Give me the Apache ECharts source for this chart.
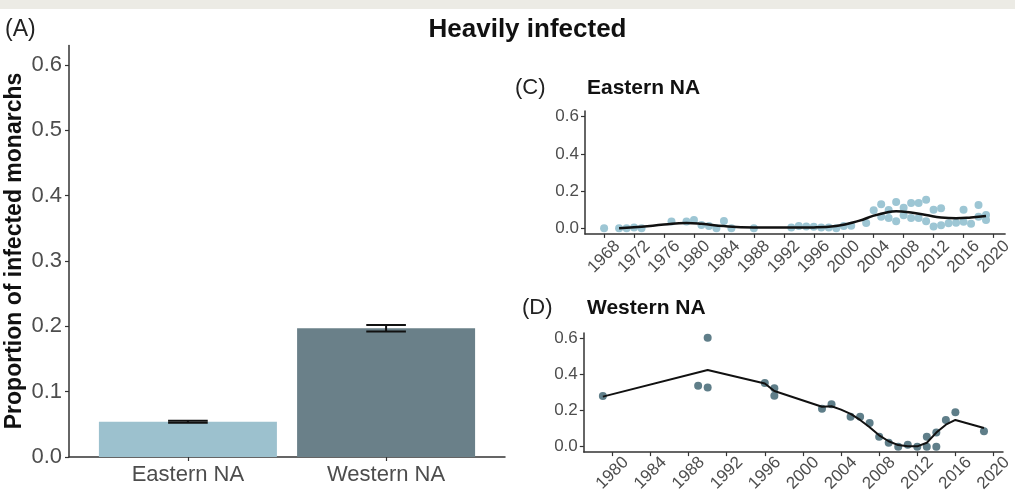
<!DOCTYPE html>
<html>
<head>
<meta charset="utf-8">
<script src="https://cdn.jsdelivr.net/npm/echarts@6/dist/echarts.min.js"></script>
<style>
html,body{margin:0;padding:0;background:#fff;}
#chart{width:1015px;height:498px;}
</style>
</head>
<body>
<div id="chart"></div>
<script>
// ---- data ----
const catsA = ['Eastern NA', 'Western NA'];
const barMeans = [0.054, 0.197];
const errLow = [0.0525, 0.192];
const errHigh = [0.0555, 0.202];
const yTicksA = [0, 0.1, 0.2, 0.3, 0.4, 0.5, 0.6];
const yTicksCD = [0, 0.2, 0.4, 0.6];
const yearTicksC = [1968, 1972, 1976, 1980, 1984, 1988, 1992, 1996, 2000, 2004, 2008, 2012, 2016, 2020];
const yearTicksD = [1980, 1984, 1988, 1992, 1996, 2000, 2004, 2008, 2012, 2016, 2020];

const eastYears = [1968, 1970, 1971, 1972, 1973, 1977, 1979, 1980, 1981, 1982, 1983, 1984, 1985, 1988,
  1993, 1994, 1995, 1996, 1997, 1998, 1999, 2000, 2001, 2003, 2004, 2005, 2005, 2006, 2006, 2007, 2007,
  2008, 2008, 2009, 2009, 2010, 2010, 2011, 2011, 2012, 2012, 2013, 2013, 2014, 2015, 2016, 2016, 2017,
  2018, 2018, 2019, 2019];
const eastVals = [0.0, 0.0, 0.0, 0.005, 0.0, 0.036, 0.036, 0.045, 0.018, 0.012, 0.0, 0.04, 0.0, 0.0,
  0.005, 0.012, 0.01, 0.008, 0.004, 0.004, 0.0, 0.012, 0.014, 0.028, 0.097, 0.13, 0.062, 0.098, 0.056, 0.142, 0.038,
  0.11, 0.07, 0.136, 0.055, 0.136, 0.056, 0.153, 0.038, 0.1, 0.01, 0.108, 0.016, 0.027, 0.03, 0.1, 0.035, 0.025,
  0.125, 0.062, 0.072, 0.045];
const eastTrendYears = [1970, 1973, 1976, 1979, 1981, 1984, 1988, 1992, 1996, 1999, 2002, 2004, 2006, 2007, 2009, 2011, 2013, 2015, 2017, 2019];
const eastTrendVals = [0.0, 0.008, 0.02, 0.028, 0.024, 0.012, 0.005, 0.004, 0.005, 0.013, 0.04, 0.068, 0.088, 0.092, 0.085, 0.072, 0.058, 0.054, 0.058, 0.066];

const westYears = [1979, 1989, 1990, 1990, 1996, 1997, 1997, 2002, 2003, 2005, 2006, 2007, 2008, 2009, 2010, 2011, 2012, 2013, 2013, 2014, 2014, 2015, 2016, 2019];
const westVals = [0.28, 0.338, 0.603, 0.328, 0.352, 0.323, 0.282, 0.21, 0.235, 0.166, 0.166, 0.131, 0.055, 0.022, 0.0, 0.011, 0.0, 0.055, 0.0, 0.078, 0.0, 0.148, 0.19, 0.085];
const westTrendYears = [1979, 1990, 1996, 1997, 2002, 2003, 2004, 2005, 2006, 2007, 2008, 2009, 2010, 2011, 2012, 2013, 2014, 2015, 2016, 2019];
const westTrendVals = [0.277, 0.425, 0.35, 0.308, 0.221, 0.224, 0.205, 0.182, 0.148, 0.108, 0.063, 0.03, 0.009, 0.002, 0.002, 0.022, 0.078, 0.122, 0.148, 0.103];

// ---- styles ----
const FONT = "'Liberation Sans', Arial, Helvetica, sans-serif";
const barColors = ['#9cc1ce', '#6a8089'];
const eastPointColor = '#9dc6d4';
const westPointColor = '#5f7e89';
const axisColor = '#333333';
const tickLabelColor = '#4d4d4d';

const zip = (a, b) => a.map((v, i) => [v, b[i]]);

const chart = echarts.init(document.getElementById('chart'), null, {renderer: 'canvas'});

function axisBase() {
  return {
    axisLine: {show: true, onZero: false, lineStyle: {color: axisColor, width: 1.5}},
    axisTick: {show: true, length: 4, lineStyle: {color: axisColor, width: 1.2}},
    splitLine: {show: false}
  };
}

const option = {
  backgroundColor: '#ffffff',
  animation: false,
  grid: [
    {left: 69, top: 45.4, width: 436, height: 411.6},
    {left: 585, top: 111.1, width: 424.4, height: 122.8},
    {left: 583.8, top: 332.9, width: 423.5, height: 119.2}
  ],
  xAxis: [
    Object.assign(axisBase(), {
      gridIndex: 0, type: 'value', min: 0.4, max: 2.6,
      axisTick: {show: true, length: 4, customValues: [1, 2], lineStyle: {color: axisColor, width: 1.2}},
      axisLabel: {customValues: [1, 2], formatter: v => catsA[Math.round(v) - 1], fontSize: 22, color: tickLabelColor, fontFamily: FONT, margin: 7}
    }),
    Object.assign(axisBase(), {
      gridIndex: 1, type: 'value', min: 1965.45, max: 2021.55,
      axisTick: {show: true, length: 4, customValues: yearTicksC, lineStyle: {color: axisColor, width: 1.2}},
      axisLabel: {customValues: yearTicksC, rotate: 45, align: 'center', verticalAlign: 'middle', margin: 23, fontSize: 17, color: tickLabelColor, fontFamily: FONT, formatter: v => String(v)}
    }),
    Object.assign(axisBase(), {
      gridIndex: 2, type: 'value', min: 1977, max: 2021,
      axisTick: {show: true, length: 4, customValues: yearTicksD, lineStyle: {color: axisColor, width: 1.2}},
      axisLabel: {customValues: yearTicksD, rotate: 45, align: 'center', verticalAlign: 'middle', margin: 21, fontSize: 17, color: tickLabelColor, fontFamily: FONT, formatter: v => String(v)}
    })
  ],
  yAxis: [
    Object.assign(axisBase(), {
      gridIndex: 0, type: 'value', min: 0, max: 0.63,
      axisTick: {show: true, length: 4, customValues: yTicksA, lineStyle: {color: axisColor, width: 1.2}},
      axisLabel: {customValues: yTicksA, formatter: v => v.toFixed(1), fontSize: 22, color: tickLabelColor, fontFamily: FONT, margin: 7}
    }),
    Object.assign(axisBase(), {
      gridIndex: 1, type: 'value', min: -0.03, max: 0.63,
      axisTick: {show: true, length: 4, customValues: yTicksCD, lineStyle: {color: axisColor, width: 1.2}},
      axisLabel: {customValues: yTicksCD, formatter: v => v.toFixed(1), fontSize: 17, color: tickLabelColor, fontFamily: FONT, margin: 6}
    }),
    Object.assign(axisBase(), {
      gridIndex: 2, type: 'value', min: -0.03, max: 0.63,
      axisTick: {show: true, length: 4, customValues: yTicksCD, lineStyle: {color: axisColor, width: 1.2}},
      axisLabel: {customValues: yTicksCD, formatter: v => v.toFixed(1), fontSize: 17, color: tickLabelColor, fontFamily: FONT, margin: 6}
    })
  ],
  series: [
    {
      type: 'bar', xAxisIndex: 0, yAxisIndex: 0, barWidth: 178,
      data: barMeans.map((m, i) => ({value: [i + 1, m], itemStyle: {color: barColors[i]}}))
    },
    {
      type: 'custom', xAxisIndex: 0, yAxisIndex: 0, z: 5,
      data: barMeans.map((m, i) => [i + 1, errLow[i], errHigh[i]]),
      renderItem: function (params, api) {
        const x = api.value(0), lo = api.value(1), hi = api.value(2);
        const pLo = api.coord([x, lo]);
        const pHi = api.coord([x, hi]);
        const half = api.size([0.1, 0])[0];
        const st = {stroke: '#111111', lineWidth: 2};
        return {
          type: 'group',
          children: [
            {type: 'line', shape: {x1: pHi[0] - half, y1: pHi[1], x2: pHi[0] + half, y2: pHi[1]}, style: st},
            {type: 'line', shape: {x1: pLo[0] - half, y1: pLo[1], x2: pLo[0] + half, y2: pLo[1]}, style: st},
            {type: 'line', shape: {x1: pHi[0], y1: pHi[1], x2: pLo[0], y2: pLo[1]}, style: st}
          ]
        };
      }
    },
    {
      type: 'scatter', xAxisIndex: 1, yAxisIndex: 1, symbolSize: 8,
      itemStyle: {color: eastPointColor, opacity: 1},
      data: zip(eastYears, eastVals)
    },
    {
      type: 'line', xAxisIndex: 1, yAxisIndex: 1, smooth: 0.5, showSymbol: false, z: 4,
      lineStyle: {color: '#111111', width: 2.5},
      data: zip(eastTrendYears, eastTrendVals)
    },
    {
      type: 'scatter', xAxisIndex: 2, yAxisIndex: 2, symbolSize: 8,
      itemStyle: {color: westPointColor, opacity: 1},
      data: zip(westYears, westVals)
    },
    {
      type: 'line', xAxisIndex: 2, yAxisIndex: 2, smooth: false, showSymbol: false, z: 4,
      lineStyle: {color: '#111111', width: 2},
      data: zip(westTrendYears, westTrendVals)
    }
  ],
  graphic: [
    {type: 'rect', left: 0, top: 0, shape: {width: 1015, height: 9}, style: {fill: '#ecebe5'}, silent: true},
    {type: 'text', x: 527.5, y: 30, style: {text: 'Heavily infected', font: 'bold 26px ' + FONT, fill: '#111', align: 'center', verticalAlign: 'middle'}},
    {type: 'text', x: 5, y: 30, style: {text: '(A)', font: '23px ' + FONT, fill: '#222', align: 'left', verticalAlign: 'middle'}},
    {type: 'text', x: 15, y: 251, rotation: Math.PI / 2, style: {text: 'Proportion of infected monarchs', font: 'bold 23px ' + FONT, fill: '#111', align: 'center', verticalAlign: 'middle'}},
    {type: 'text', x: 515, y: 88, style: {text: '(C)', font: '22px ' + FONT, fill: '#222', align: 'left', verticalAlign: 'middle'}},
    {type: 'text', x: 587, y: 88, style: {text: 'Eastern NA', font: 'bold 21px ' + FONT, fill: '#111', align: 'left', verticalAlign: 'middle'}},
    {type: 'text', x: 522, y: 308, style: {text: '(D)', font: '22px ' + FONT, fill: '#222', align: 'left', verticalAlign: 'middle'}},
    {type: 'text', x: 587, y: 308, style: {text: 'Western NA', font: 'bold 21px ' + FONT, fill: '#111', align: 'left', verticalAlign: 'middle'}}
  ]
};
chart.setOption(option);
</script>
</body>
</html>
